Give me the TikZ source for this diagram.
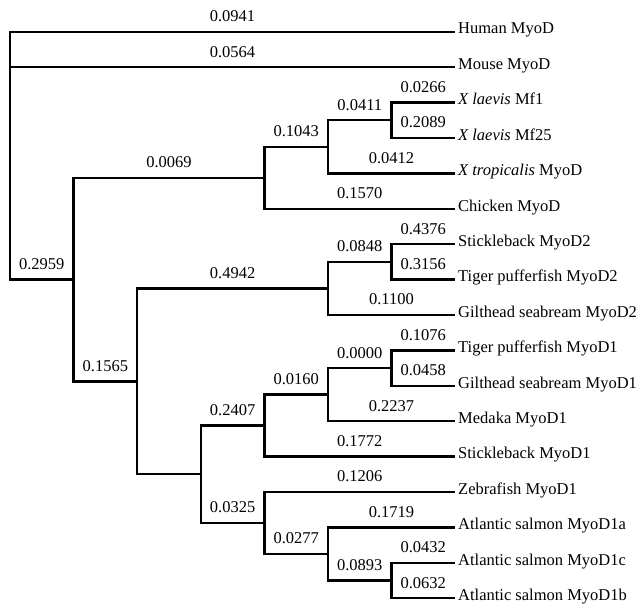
\documentclass[tikz,border=0pt]{standalone}
\usepackage{fontspec}
\setmainfont{Liberation Serif}
\usepackage{tikz}

\begin{document}
\begin{tikzpicture}[x=1pt, y=-1pt,
    font=\fontsize{16.5}{19}\selectfont,
    branch/.style={line width=2.4pt},
    taxon/.style={anchor=west, inner xsep=3pt, inner ysep=0pt,
                  text height=10pt, text depth=5.4pt},
    blen/.style={pos=0.75, above=6.5pt, inner sep=2pt}]
  \useasboundingbox (0,0) rectangle (640,605);

  % Taxa
  \node[taxon] (human)  at (455,31.7)  {Human MyoD};
  \node[taxon] (mouse)  at (455,67.1)  {Mouse MyoD};
  \node[taxon] (mf1)    at (455,102.5) {\textit{X laevis} Mf1};
  \node[taxon] (mf25)   at (455,137.9) {\textit{X laevis} Mf25};
  \node[taxon] (trop)   at (455,173.3) {\textit{X tropicalis} MyoD};
  \node[taxon] (chick)  at (455,208.7) {Chicken MyoD};
  \node[taxon] (stkbB)  at (455,244.1) {Stickleback MyoD2};
  \node[taxon] (tpfB)   at (455,279.5) {Tiger pufferfish MyoD2};
  \node[taxon] (gsbB)   at (455,314.9) {Gilthead seabream MyoD2};
  \node[taxon] (tpfA)   at (455,350.3) {Tiger pufferfish MyoD1};
  \node[taxon] (gsbA)   at (455,385.7) {Gilthead seabream MyoD1};
  \node[taxon] (medaka) at (455,421.1) {Medaka MyoD1};
  \node[taxon] (stkbA)  at (455,456.5) {Stickleback MyoD1};
  \node[taxon] (zebra)  at (455,491.9) {Zebrafish MyoD1};
  \node[taxon] (salA)   at (455,527.3) {Atlantic salmon MyoD1a};
  \node[taxon] (salC)   at (455,562.7) {Atlantic salmon MyoD1c};
  \node[taxon] (salB)   at (455,598.1) {Atlantic salmon MyoD1b};

  % Internal nodes
  \coordinate (root) at (10,155);
  \coordinate (nA) at (73.6,279.5);
  \coordinate (nB) at (264.4,177.7);
  \coordinate (nC) at (328,146.75);
  \coordinate (nD) at (391.6,120.2);
  \coordinate (nE) at (137.2,381.3);
  \coordinate (nF) at (328,288.35);
  \coordinate (nG) at (391.6,261.8);
  \coordinate (nN) at (200.8,474.2);
  \coordinate (nJ) at (264.4,425.5);
  \coordinate (nI) at (328,394.55);
  \coordinate (nH) at (391.6,368);
  \coordinate (nM) at (264.4,522.9);
  \coordinate (nL) at (328,553.85);
  \coordinate (nK) at (391.6,580.4);

  % Branches
  \draw[branch] (root) |- node[blen]{0.0941} (human.west);
  \draw[branch] (root) |- node[blen]{0.0564} (mouse.west);
  \draw[branch] (root) |- node[blen]{0.2959} (nA);
  \draw[branch] (nA) |- node[blen]{0.0069} (nB);
  \draw[branch] (nA) |- node[blen]{0.1565} (nE);
  \draw[branch] (nB) |- node[blen]{0.1043} (nC);
  \draw[branch] (nB) |- node[blen]{0.1570} (chick.west);
  \draw[branch] (nC) |- node[blen]{0.0411} (nD);
  \draw[branch] (nC) |- node[blen]{0.0412} (trop.west);
  \draw[branch] (nD) |- node[blen]{0.0266} (mf1.west);
  \draw[branch] (nD) |- node[blen]{0.2089} (mf25.west);
  \draw[branch] (nE) |- node[blen]{0.4942} (nF);
  \draw[branch] (nE) |- (nN);
  \draw[branch] (nF) |- node[blen]{0.0848} (nG);
  \draw[branch] (nF) |- node[blen]{0.1100} (gsbB.west);
  \draw[branch] (nG) |- node[blen]{0.4376} (stkbB.west);
  \draw[branch] (nG) |- node[blen]{0.3156} (tpfB.west);
  \draw[branch] (nN) |- node[blen]{0.2407} (nJ);
  \draw[branch] (nN) |- node[blen]{0.0325} (nM);
  \draw[branch] (nJ) |- node[blen]{0.0160} (nI);
  \draw[branch] (nJ) |- node[blen]{0.1772} (stkbA.west);
  \draw[branch] (nI) |- node[blen]{0.0000} (nH);
  \draw[branch] (nI) |- node[blen]{0.2237} (medaka.west);
  \draw[branch] (nH) |- node[blen]{0.1076} (tpfA.west);
  \draw[branch] (nH) |- node[blen]{0.0458} (gsbA.west);
  \draw[branch] (nM) |- node[blen]{0.1206} (zebra.west);
  \draw[branch] (nM) |- node[blen]{0.0277} (nL);
  \draw[branch] (nL) |- node[blen]{0.1719} (salA.west);
  \draw[branch] (nL) |- node[blen]{0.0893} (nK);
  \draw[branch] (nK) |- node[blen]{0.0432} (salC.west);
  \draw[branch] (nK) |- node[blen]{0.0632} (salB.west);
\end{tikzpicture}
\end{document}
